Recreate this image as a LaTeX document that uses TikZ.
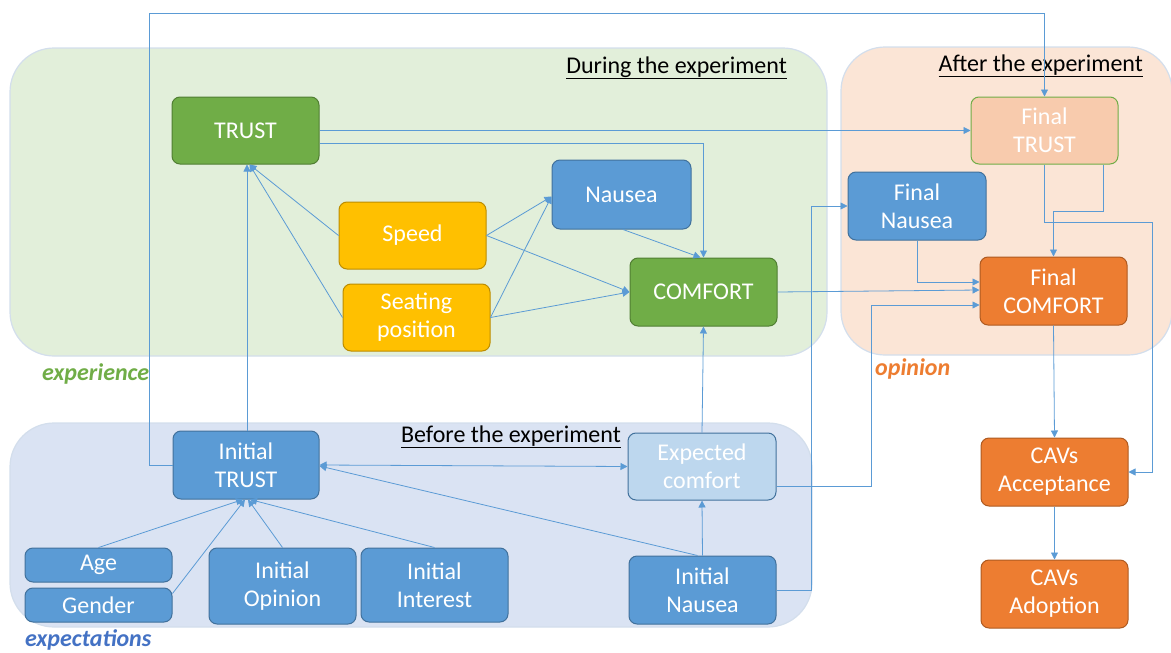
\documentclass[tikz,border=0pt]{standalone}
\usepackage{fontspec}
\setmainfont{Carlito}
\usetikzlibrary{arrows.meta,calc}

\definecolor{gfill}{HTML}{70AD47}
\definecolor{gline}{HTML}{507E32}
\definecolor{bfill}{HTML}{5B9BD5}
\definecolor{bline}{HTML}{41719C}
\definecolor{yfill}{HTML}{FFC000}
\definecolor{yline}{HTML}{BC8C00}
\definecolor{ofill}{HTML}{ED7D31}
\definecolor{oline}{HTML}{AE5A21}
\definecolor{lbfill}{HTML}{BDD7EE}
\definecolor{pfill}{HTML}{F8CBAD}
\definecolor{regG}{HTML}{E2EFDA}
\definecolor{regP}{HTML}{FBE5D6}
\definecolor{regB}{HTML}{DAE3F3}
\definecolor{regLine}{HTML}{D3DEEC}
\definecolor{wire}{HTML}{5B9BD5}
\definecolor{expB}{HTML}{4472C4}

\tikzset{
  region/.style={draw=regLine, line width=1.2pt, rounded corners=44pt},
  box/.style={rounded corners=8pt, line width=1pt, align=center, text=white,
    inner sep=0pt, font=\fontsize{24}{28}\selectfont},
  gbox/.style={box, fill=gfill, draw=gline},
  bbox/.style={box, fill=bfill, draw=bline},
  ybox/.style={box, fill=yfill, draw=yline},
  obox/.style={box, fill=ofill, draw=oline},
  lbbox/.style={box, fill=lbfill, draw=bline},
  pbox/.style={box, fill=pfill, draw=gfill},
  conn/.style={draw=wire, line width=0.8pt, -{Triangle[length=7pt,width=7pt]}},
  biconn/.style={draw=wire, line width=0.8pt, {Triangle[length=7pt,width=7pt]}-{Triangle[length=7pt,width=7pt]}},
  heading/.style={font=\fontsize{24}{28}\selectfont, inner sep=0pt},
  phase/.style={font=\fontsize{24}{28}\selectfont\bfseries\itshape, inner sep=0pt},
}

\begin{document}
\begin{tikzpicture}[x=1pt, y=-1pt]
\useasboundingbox (0,0) rectangle (1171,653);
\clip (0,0) rectangle (1171,653);

% phase backgrounds
\fill[regG] (10,48) [rounded corners=44pt] rectangle (827,356);
\draw[region] (10,48) rectangle (827,356);
\fill[regP] (841,47) [rounded corners=44pt] rectangle (1172,355);
\draw[region] (841,47) rectangle (1172,355);
\fill[regB] (10,423) [rounded corners=44pt] rectangle (812,627);
\draw[region] (10,423) rectangle (812,627);

% phase headings
\node[heading, anchor=base east] (hdur) at (787,73) {\underline{During the experiment}};
\node[heading, anchor=base east] (haft) at (1143,71) {\underline{After the experiment}};
\node[heading, anchor=base east] (hbef) at (621,442) {\underline{Before the experiment}};

\node[phase, anchor=base west, text=gfill] (lexp) at (42,380) {experience};
\node[phase, anchor=base west, text=ofill] (lopi) at (875,375) {opinion};
\node[phase, anchor=base west, text=expB] (lexc) at (25,646) {expectations};

% during the experiment
\node[gbox, minimum width=147pt, minimum height=67pt] (trust) at (245.5,130.5) {TRUST};
\node[bbox, minimum width=139pt, minimum height=69pt] (nausea) at (621.5,194.5) {Nausea};
\node[ybox, minimum width=147pt, minimum height=67pt] (speed) at (412.5,235.5) {Speed};
\node[ybox, minimum width=147pt, minimum height=67pt] (seat) at (416.5,317.5) {Seating\\position};
\node[gbox, minimum width=147pt, minimum height=68pt] (comfort) at (703.5,292) {COMFORT};

% after the experiment
\node[pbox, minimum width=147pt, minimum height=67pt] (ftrust) at (1044.5,130.5) {Final\\TRUST};
\node[bbox, minimum width=138pt, minimum height=68pt] (fnausea) at (917,206) {Final\\Nausea};
\node[obox, minimum width=147pt, minimum height=68pt] (fcomfort) at (1053.5,291) {Final\\COMFORT};
\node[obox, minimum width=147pt, minimum height=68pt] (cavacc) at (1054.5,472) {CAVs\\Acceptance};
\node[obox, minimum width=147pt, minimum height=68pt] (cavadopt) at (1054.5,594) {CAVs\\Adoption};

% before the experiment
\node[bbox, minimum width=146pt, minimum height=68pt] (itrust) at (246,465) {Initial\\TRUST};
\node[lbbox, minimum width=148pt, minimum height=67pt] (expc) at (702,466.5) {Expected\\comfort};
\node[bbox, minimum width=147pt, minimum height=34pt] (age) at (98.5,565) {Age};
\node[bbox, minimum width=147pt, minimum height=34pt] (gender) at (98.5,605) {Gender};
\node[bbox, minimum width=147pt, minimum height=76pt] (iopinion) at (282.5,586) {Initial\\Opinion};
\node[bbox, minimum width=147pt, minimum height=74pt] (iinterest) at (434.5,585) {Initial\\Interest};
\node[bbox, minimum width=147pt, minimum height=68pt] (inausea) at (702.5,590) {Initial\\Nausea};

% links
\draw[conn] (itrust.west) -- (149,465) -- (149,13) -| (ftrust.north);
\draw[conn] ([xshift=1pt]itrust.north) -- ([xshift=1.5pt]trust.south);
\draw[conn] (speed.west) -- ([xshift=4pt]trust.south);
\draw[conn] (seat.west) -- ([xshift=4pt]trust.south);
\draw[conn] (trust.east) -- (ftrust.west);
\draw[conn] ([yshift=-12.5pt]trust.east) -| (comfort.north);
\draw[conn] (speed.east) -- ([yshift=-2pt]nausea.west);
\draw[conn] (seat.east) -- ([yshift=-2pt]nausea.west);
\draw[conn] (speed.east) -- (comfort.west);
\draw[conn] (seat.east) -- (comfort.west);
\draw[conn] ([xshift=1.5pt]nausea.south) -- ([xshift=-3pt]comfort.north);
\draw[conn] (comfort.east) -- ([yshift=1pt]fcomfort.west);
\draw[conn] (expc.north) -- (comfort.south);
\draw[conn] (inausea.north) -- (expc.south);
\draw[conn] ([xshift=-5pt]inausea.north) -- ([yshift=-1pt]itrust.east);
\draw[biconn] (itrust.east) -- (expc.west);
\draw[conn] (inausea.east) -- (811,590) |- (fnausea.west);
\draw[conn] ([yshift=-20pt]expc.east) -- (871,486.5) |- ([yshift=-14pt]fcomfort.west);
\draw[conn] (fnausea.south) |- ([yshift=9pt]fcomfort.west);
\draw[conn] ([xshift=58.5pt]ftrust.south) -- (1103,211) -| (fcomfort.north);
\draw[conn] (ftrust.south) |- (1152,222) |- (cavacc.east);
\draw[conn] (fcomfort.south) -- (cavacc.north);
\draw[conn] (cavacc.south) -- (cavadopt.north);
\draw[conn] (age.north) -- ([xshift=-3pt]itrust.south);
\draw[conn] ([yshift=-6pt]gender.north east) -- ([xshift=-1pt]itrust.south);
\draw[conn] (iopinion.north) -- ([xshift=2pt]itrust.south);
\draw[conn] (iinterest.north) -- ([xshift=4pt]itrust.south);
\end{tikzpicture}
\end{document}
